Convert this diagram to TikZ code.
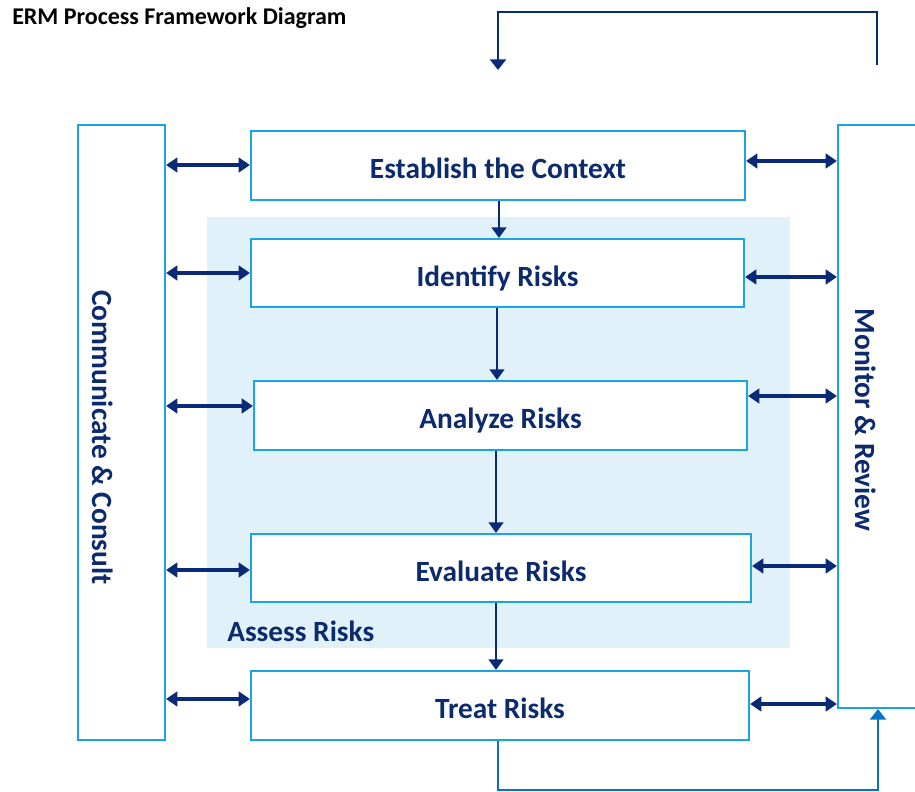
\documentclass[tikz,border=0pt]{standalone}
\usepackage{fontspec}
\setmainfont{Carlito}
\usetikzlibrary{arrows.meta}
\definecolor{navy}{HTML}{0C2A6E}
\definecolor{arrnavy}{HTML}{0A2A78}
\definecolor{boxblue}{HTML}{1BA5E0}
\definecolor{bgblue}{HTML}{E1F1F9}
\definecolor{loopblue}{HTML}{0A72C4}
\tikzset{
  procbox/.style={draw=boxblue, line width=1.6pt, fill=white, inner sep=0pt,
    font=\bfseries\fontsize{22pt}{25pt}\selectfont, text=navy,
    text height=23.9pt, text depth=4pt},
  sidebox/.style={draw=boxblue, line width=1.6pt, fill=white, inner sep=0pt},
  sidelabel/.style={rotate=-90, font=\bfseries\fontsize{22pt}{25pt}\selectfont, text=navy, inner sep=0pt},
  dbl/.style={arrnavy, line width=2.3pt, {Triangle[length=8.5pt,width=11pt]}-{Triangle[length=8.5pt,width=11pt]}},
  down/.style={arrnavy, line width=1.9pt, -{Triangle[length=8pt,width=11pt]}},
  toploop/.style={arrnavy, line width=2pt, -{Triangle[length=8pt,width=12pt]}},
  botloop/.style={loopblue, line width=2pt, -{Triangle[length=8pt,width=12pt]}},
}
\begin{document}
\begin{tikzpicture}[x=0.75pt,y=-0.75pt]
\useasboundingbox (0,0) rectangle (915,792);
% title
\node[anchor=west, font=\bfseries\fontsize{18pt}{20pt}\selectfont, inner sep=0pt] (title) at (12,18) {ERM Process Framework Diagram};
% assess background
\fill[bgblue] (207,217) rectangle (790,648);
\node[anchor=west, font=\bfseries\fontsize{22pt}{25pt}\selectfont, text=navy, inner sep=0pt] (assess) at (227,631) {Assess Risks};
% side boxes
\node[sidebox, minimum width=65.25pt, minimum height=461.25pt] (comm) at (121.5,432.5) {};
\node[sidelabel] (commlabel) at (103,437.5) {Communicate \& Consult};
\node[sidebox, minimum width=91.5pt, minimum height=437.25pt] (mon) at (899,416.5) {};
\node[sidelabel] (monlabel) at (866,420) {Monitor \& Review};
% process boxes
\node[procbox, minimum width=370.5pt, minimum height=51.75pt] (est) at (498,165.5) {Establish the Context};
\node[procbox, minimum width=369.75pt, minimum height=51pt] (ide) at (497.5,273) {Identify Risks};
\node[procbox, minimum width=369.75pt, minimum height=51.75pt] (ana) at (500.5,415.5) {Analyze Risks};
\node[procbox, minimum width=375pt, minimum height=51pt] (eva) at (501,568) {Evaluate Risks};
\node[procbox, minimum width=373.5pt, minimum height=51.75pt] (tre) at (500,705.5) {Treat Risks};
% vertical arrows
\draw[down] (est.south -| 499,0) -- (ide.north -| 499,0);
\draw[down] (ide.south -| 497,0) -- (ana.north -| 497,0);
\draw[down] (ana.south -| 496,0) -- (eva.north -| 496,0);
\draw[down] (eva.south -| 496,0) -- (tre.north -| 496,0);
% left double arrows
\draw[dbl] (comm.east |- 0,165) -- (est.west |- 0,165);
\draw[dbl] (comm.east |- 0,273) -- (ide.west |- 0,273);
\draw[dbl] (comm.east |- 0,406) -- (ana.west |- 0,406);
\draw[dbl] (comm.east |- 0,570) -- (eva.west |- 0,570);
\draw[dbl] (comm.east |- 0,699) -- (tre.west |- 0,699);
% right double arrows
\draw[dbl] (est.east |- 0,161) -- (mon.west |- 0,161);
\draw[dbl] (ide.east |- 0,277) -- (mon.west |- 0,277);
\draw[dbl] (ana.east |- 0,396) -- (mon.west |- 0,396);
\draw[dbl] (eva.east |- 0,566) -- (mon.west |- 0,566);
\draw[dbl] (tre.east |- 0,704) -- (mon.west |- 0,704);
% top loop
\coordinate (tlstart) at (877,65);
\coordinate (tlend) at (498,70);
\draw[toploop] (tlstart) -- (877,12) -| (tlend);
% bottom loop
\draw[botloop] (tre.south -| 498,0) -- (498,790) -| (mon.south -| 878,0);
\end{tikzpicture}
\end{document}
